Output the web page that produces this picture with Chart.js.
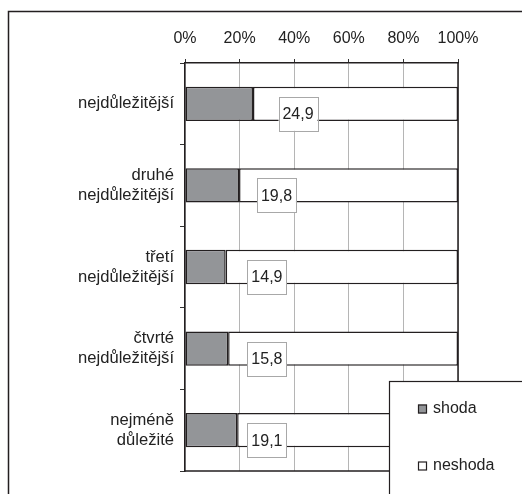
<!DOCTYPE html>
<html>
<head>
<meta charset="utf-8">
<script src="https://cdn.jsdelivr.net/npm/chart.js@4/dist/chart.umd.min.js"></script>
<style>
  html, body { margin: 0; padding: 0; background: #fff; }
  #wrap { width: 522px; height: 494px; position: relative; }
</style>
</head>
<body>
<div id="wrap"><canvas id="chart" width="522" height="494"></canvas></div>
<script>
const categories = [
  ["nejdůležitější"],
  ["druhé", "nejdůležitější"],
  ["třetí", "nejdůležitější"],
  ["čtvrté", "nejdůležitější"],
  ["nejméně", "důležité"]
];
const shoda = [24.9, 19.8, 14.9, 15.8, 19.1];
const neshoda = [75.1, 80.2, 85.1, 84.2, 80.9];
// where the value boxes sit, in % of the axis
const labelAt = [41.4, 33.5, 30.0, 30.0, 30.0];
const xTicks = [0, 20, 40, 60, 80, 100];

const FONT = "'Liberation Sans', Arial, Helvetica, sans-serif";
Chart.defaults.font.family = FONT;
Chart.defaults.font.size = 16;
Chart.defaults.color = "#222";

const dark = "#231f20";

const extras = {
  id: "extras",
  afterDatasetsDraw(chart) {
    const { ctx, chartArea: a, scales } = chart;
    ctx.save();
    // right + bottom edges of plot
    ctx.strokeStyle = dark;
    ctx.lineWidth = 1.5;
    ctx.beginPath();
    ctx.moveTo(a.right, a.top);
    ctx.lineTo(a.right, a.bottom);
    ctx.lineTo(a.left, a.bottom);
    ctx.stroke();

    // value boxes
    ctx.font = "16px " + FONT;
    ctx.textAlign = "center";
    ctx.textBaseline = "middle";
    shoda.forEach((v, i) => {
      const x = scales.x.getPixelForValue(labelAt[i]);
      const y = scales.y.getPixelForValue(i) + 10;
      const w = 39, h = 34;
      ctx.fillStyle = "#fff";
      ctx.fillRect(x - w / 2, y - h / 2, w, h);
      ctx.strokeStyle = "#a8a8a8";
      ctx.lineWidth = 1;
      ctx.strokeRect(Math.round(x - w / 2) + 0.5, Math.round(y - h / 2) + 0.5, w, h);
      ctx.fillStyle = "#222";
      ctx.fillText(String(v).replace(".", ","), x, y + 1);
    });
    ctx.restore();
  },
  afterDraw(chart) {
    const { ctx } = chart;
    ctx.save();
    // outer frame
    ctx.strokeStyle = dark;
    ctx.lineWidth = 1.5;
    ctx.beginPath();
    ctx.moveTo(8.5, 500);
    ctx.lineTo(8.5, 11.5);
    ctx.lineTo(522, 11.5);
    ctx.stroke();

    // legend box
    ctx.fillStyle = "#fff";
    ctx.fillRect(389, 381, 140, 120);
    ctx.lineWidth = 1.2;
    ctx.strokeRect(389.5, 381.5, 140, 120);
    const items = chart.data.datasets;
    const ys = [409, 466];
    ctx.font = "16px " + FONT;
    ctx.textAlign = "left";
    ctx.textBaseline = "middle";
    items.forEach((ds, i) => {
      ctx.fillStyle = ds.backgroundColor;
      ctx.fillRect(418, ys[i] - 4.5, 9, 9);
      ctx.strokeStyle = dark;
      ctx.lineWidth = 1.2;
      ctx.strokeRect(418.5, ys[i] - 4, 8, 8);
      ctx.fillStyle = "#222";
      ctx.fillText(ds.label, 433, ys[i]);
    });
    ctx.restore();
  }
};

new Chart(document.getElementById("chart"), {
  type: "bar",
  data: {
    labels: categories,
    datasets: [
      {
        label: "shoda",
        data: shoda,
        backgroundColor: "#939598",
        borderColor: dark,
        borderWidth: 1.5,
        borderSkipped: false
      },
      {
        label: "neshoda",
        data: neshoda,
        backgroundColor: "#ffffff",
        borderColor: dark,
        borderWidth: 1.5,
        borderSkipped: false
      }
    ]
  },
  options: {
    indexAxis: "y",
    responsive: false,
    animation: false,
    layout: { padding: { left: 0, top: 0, right: 64, bottom: 23 } },
    datasets: { bar: { categoryPercentage: 1, barPercentage: 0.42 } },
    plugins: {
      legend: { display: false },
      tooltip: { enabled: false }
    },
    scales: {
      x: {
        position: "top",
        stacked: true,
        min: 0,
        max: 100,
        afterBuildTicks: s => { s.ticks = xTicks.map(v => ({ value: v })); },
        afterFit: s => { s.height = 63; },
        ticks: {
          padding: 11,
          color: "#222",
          callback: v => v + "%"
        },
        grid: {
          color: "#b5b5b5",
          tickColor: "#333",
          tickLength: 4,
          lineWidth: 1
        },
        border: { color: dark, width: 1.5 }
      },
      y: {
        stacked: true,
        afterFit: s => { s.width = 185; },
        ticks: { padding: 6, color: "#222", font: { size: 16.6 } },
        grid: {
          drawOnChartArea: false,
          offset: true,
          tickLength: 5,
          tickColor: "#333"
        },
        border: { color: dark, width: 1.5 }
      }
    }
  },
  plugins: [extras]
});
</script>
</body>
</html>
